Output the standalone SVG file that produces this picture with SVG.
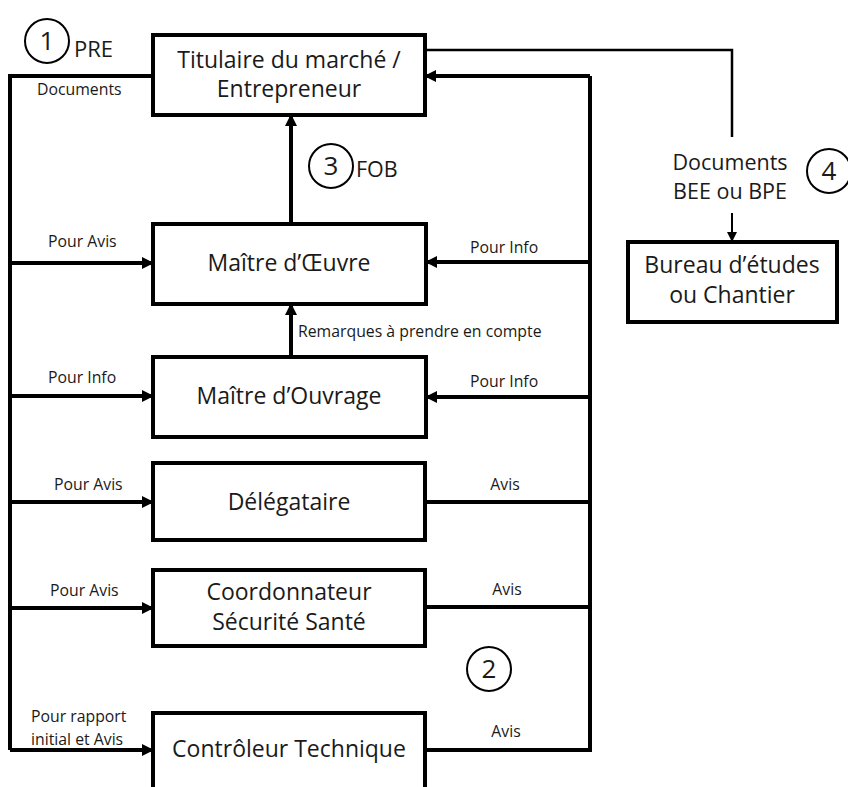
<svg xmlns="http://www.w3.org/2000/svg" width="848" height="787" viewBox="0 0 848 787">
<defs>
<marker id="ah" markerUnits="userSpaceOnUse" markerWidth="12" markerHeight="12" refX="11" refY="6" orient="auto"><path d="M0,0 L12,6 L0,12 Z" fill="#000"/></marker>
<marker id="ahs" markerUnits="userSpaceOnUse" markerWidth="10" markerHeight="10" refX="9" refY="5" orient="auto"><path d="M0,0 L10,5 L0,10 Z" fill="#000"/></marker>
<style>
.box{fill:#fff;stroke:#000;stroke-width:4}
.nt{font-family:"Open Sans","Noto Sans",sans-serif;font-size:23px;fill:#1a1a1a;text-anchor:middle}
.lb{font-family:"Open Sans","Noto Sans",sans-serif;font-size:15.8px;fill:#1a1a1a}
.ln{fill:none;stroke:#000;stroke-width:4}
.arr{fill:none;stroke:#000;stroke-width:4;marker-end:url(#ah)}
.thin{fill:none;stroke:#000;stroke-width:2.5}
.circ{fill:none;stroke:#000;stroke-width:2}
.num{font-family:"Open Sans","Noto Sans",sans-serif;font-size:26px;fill:#1a1a1a;text-anchor:middle}
.big{font-family:"Open Sans","Noto Sans",sans-serif;font-size:21.5px;fill:#1a1a1a}
</style>
</defs>
<rect width="848" height="787" fill="#fff"/>
<g id="connectors">
<path class="ln" d="M153,76 H10 V750"/>
<path class="arr" d="M10,263 H153"/>
<path class="arr" d="M10,396 H153"/>
<path class="arr" d="M10,502 H153"/>
<path class="arr" d="M10,608 H153"/>
<path class="arr" d="M10,750 H153"/>
<path class="ln" d="M590,76 V750"/>
<path class="arr" d="M590,76 H425"/>
<path class="arr" d="M590,262 H426"/>
<path class="arr" d="M590,397 H426"/>
<path class="ln" d="M425,502 H590"/>
<path class="ln" d="M425,607 H590"/>
<path class="ln" d="M425,750 H592"/>
<path class="arr" d="M291,224 V115"/>
<path class="arr" d="M291,357 V304"/>
<path class="thin" d="M425,50 H732 V137"/>
<path fill="none" stroke="#000" stroke-width="2" marker-end="url(#ahs)" d="M732,213 V241"/>
</g>
<g id="titulaire"><rect class="box" x="153" y="35" width="272" height="80"/><text class="nt" x="289" y="68">Titulaire du marché /</text><text class="nt" x="289" y="97">Entrepreneur</text></g>
<g id="moe"><rect class="box" x="153" y="224" width="273" height="80"/><text class="nt" x="289" y="271">Maître d’Œuvre</text></g>
<g id="moa"><rect class="box" x="153" y="357" width="273" height="80"/><text class="nt" x="289" y="404">Maître d’Ouvrage</text></g>
<g id="delegataire"><rect class="box" x="153" y="463" width="272" height="77"/><text class="nt" x="289" y="510">Délégataire</text></g>
<g id="csps"><rect class="box" x="153" y="570" width="272" height="76"/><text class="nt" x="289" y="600">Coordonnateur</text><text class="nt" x="289" y="630">Sécurité Santé</text></g>
<g id="ct"><rect class="box" x="153" y="713" width="272" height="100"/><text class="nt" x="289" y="757">Contrôleur Technique</text></g>
<g id="bureau"><rect class="box" x="628" y="242" width="209" height="80"/><text class="nt" x="732" y="273">Bureau d’études</text><text class="nt" x="732" y="303">ou Chantier</text></g>
<g id="labels">
<text class="lb" x="37" y="95">Documents</text>
<text class="lb" x="48" y="247">Pour Avis</text>
<text class="lb" x="48" y="383">Pour Info</text>
<text class="lb" x="470" y="253">Pour Info</text>
<text class="lb" x="470" y="387">Pour Info</text>
<text class="lb" x="298" y="337">Remarques à prendre en compte</text>
<text class="lb" x="54" y="490">Pour Avis</text>
<text class="lb" x="505" y="490" text-anchor="middle">Avis</text>
<text class="lb" x="50" y="596">Pour Avis</text>
<text class="lb" x="507" y="595" text-anchor="middle">Avis</text>
<text class="lb" x="31" y="722">Pour rapport</text>
<text class="lb" x="31" y="745">initial et Avis</text>
<text class="lb" x="506" y="737" text-anchor="middle">Avis</text>
<text class="big" x="730" y="170" text-anchor="middle">Documents</text>
<text class="big" x="730" y="199" text-anchor="middle">BEE ou BPE</text>
</g>
<g id="markers">
<circle class="circ" cx="47" cy="41" r="22"/><text class="num" x="47" y="50">1</text>
<text class="big" x="74" y="57" style="font-size:22px">PRE</text>
<circle class="circ" cx="331" cy="166" r="22"/><text class="num" x="331" y="175">3</text>
<text class="big" x="356" y="177">FOB</text>
<circle class="circ" cx="489" cy="669" r="22"/><text class="num" x="489" y="678">2</text>
<circle class="circ" cx="829" cy="171" r="22"/><text class="num" x="829" y="180">4</text>
</g>
</svg>
